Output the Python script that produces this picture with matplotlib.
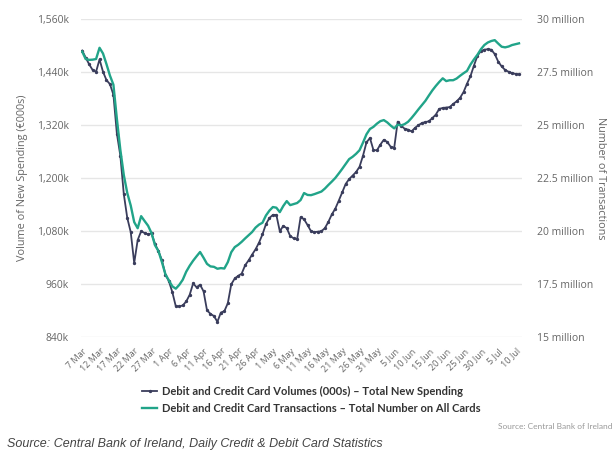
import pandas as pd
import matplotlib.pyplot as plt
from matplotlib.ticker import FuncFormatter

# daily values, 7 Mar - 11 Jul 2020
dates = pd.date_range("2020-03-07", "2020-07-11", freq="D")

# Debit and Credit Card Volumes (000s) - Total New Spending, in EUR 000s (thousands)
spending_k = [
    1488, 1472, 1457, 1444, 1440, 1468, 1440, 1421, 1412, 1388,
    1300, 1250, 1163, 1109, 1077, 1007, 1059, 1079, 1075, 1072,
    1074, 1050, 1034, 1013, 981, 966, 941, 909, 909, 911,
    920, 935, 961, 952, 958, 943, 900, 892, 887, 874,
    895, 898, 916, 959, 972, 978, 983, 1002, 1013, 1026,
    1038, 1053, 1072, 1095, 1109, 1116, 1116, 1079, 1091, 1086,
    1068, 1063, 1061, 1111, 1106, 1093, 1079, 1077, 1078, 1079,
    1086, 1100, 1117, 1130, 1148, 1167, 1186, 1197, 1205, 1213,
    1225, 1250, 1280, 1290, 1263, 1262, 1275, 1286, 1281, 1270,
    1268, 1327, 1318, 1311, 1309, 1305, 1313, 1319, 1324, 1326,
    1328, 1335, 1343, 1356, 1358, 1359, 1360, 1367, 1373, 1381,
    1394, 1413, 1430, 1454, 1476, 1487, 1490, 1491, 1490, 1480,
    1463, 1452, 1444, 1440, 1437, 1435, 1434,
]

# Debit and Credit Card Transactions - Total Number on All Cards, millions
transactions_m = [
    28.45, 28.10, 28.06, 28.07, 28.10, 28.63, 28.36, 27.86, 27.32, 26.89,
    25.28, 23.82, 22.63, 21.78, 21.19, 20.41, 20.12, 20.69, 20.46, 20.24,
    19.89, 19.32, 19.04, 18.52, 17.95, 17.66, 17.38, 17.27, 17.45, 17.69,
    18.07, 18.35, 18.59, 18.80, 19.00, 18.73, 18.44, 18.32, 18.30, 18.21,
    18.24, 18.22, 18.52, 18.99, 19.23, 19.34, 19.48, 19.64, 19.79, 19.94,
    20.15, 20.29, 20.38, 20.72, 20.95, 21.12, 21.09, 20.88, 21.17, 21.40,
    21.21, 21.26, 21.31, 21.45, 21.78, 21.69, 21.68, 21.73, 21.79, 21.85,
    21.99, 22.16, 22.32, 22.49, 22.70, 22.92, 23.15, 23.38, 23.49, 23.63,
    23.80, 24.16, 24.55, 24.80, 24.90, 25.05, 25.17, 25.22, 25.11, 24.96,
    24.83, 25.00, 24.97, 25.03, 25.14, 25.32, 25.52, 25.73, 25.93, 26.13,
    26.38, 26.62, 26.83, 27.02, 27.19, 27.06, 27.10, 27.10, 27.18, 27.31,
    27.43, 27.54, 27.84, 28.08, 28.30, 28.56, 28.76, 28.88, 28.95, 28.99,
    28.83, 28.68, 28.65, 28.69, 28.76, 28.80, 28.84,
]

left_ticks = [840, 960, 1080, 1200, 1320, 1440, 1560]
right_ticks = [15, 17.5, 20, 22.5, 25, 27.5, 30]
tick_dates = dates[::5]

label_spending = "Debit and Credit Card Volumes (000s) \u2013 Total New Spending"
label_trans = "Debit and Credit Card Transactions \u2013 Total Number on All Cards"

dark = "#3a3d5c"
green = "#21a489"
grey = "#666666"

plt.rcParams['font.family'] = ['Open Sans', 'DejaVu Sans']

fig = plt.figure(figsize=(6.14, 4.57), dpi=100)
ax = fig.add_axes([0.132, 0.263, 0.718, 0.696])
ax2 = ax.twinx()

l1, = ax.plot(dates, spending_k, color=dark, lw=1.3, marker="o", ms=1.4,
              label=label_spending, zorder=3)
l2, = ax2.plot(dates, transactions_m, color=green, lw=1.7,
               label=label_trans, zorder=3)

ax.set_ylim(840, 1560)
ax2.set_ylim(15, 30)
ax.set_yticks(left_ticks)
ax2.set_yticks(right_ticks)
ax.yaxis.set_major_formatter(FuncFormatter(lambda v, p: f"{v:,.0f}k"))
ax2.yaxis.set_major_formatter(FuncFormatter(lambda v, p: f"{v:g} million"))

ax.set_xlim(dates[0] - pd.Timedelta(hours=8), dates[-1] + pd.Timedelta(hours=20))
ax.set_xticks(tick_dates)
ax.set_xticklabels([f"{d.day} {d.strftime('%b')}" for d in tick_dates],
                   rotation=45, ha="right", rotation_mode="anchor",
                   fontsize=6.5, color=grey)

ax.grid(axis="y", color="#e6e6e6", lw=1)
ax.set_axisbelow(True)
for a in (ax, ax2):
    for s in a.spines.values():
        s.set_visible(False)
ax.tick_params(axis="y", length=0, pad=9, labelsize=7.5, labelcolor=grey)
ax2.tick_params(axis="y", length=0, pad=11, labelsize=7.5, labelcolor=grey)
ax.tick_params(axis="x", length=0, pad=7)

ax.set_ylabel("Volume of New Spending (\u20ac000s)", fontsize=7.8, color=grey)
ax.yaxis.set_label_coords(-0.12, 0.5)
ax2.set_ylabel("Number of Transactions", fontsize=7.8, color=grey, rotation=270)
ax2.yaxis.set_label_coords(1.19, 0.5)

fig.legend([l1, l2], [label_spending, label_trans], loc="upper left",
           bbox_to_anchor=(0.232, 0.156), frameon=False,
           prop={"family": ["Lato", "DejaVu Sans"], "weight": "bold", "size": 8},
           labelcolor="#333333", labelspacing=0.55, handlelength=1.3,
           handletextpad=0.5, borderpad=0, borderaxespad=0)

fig.text(0.997, 0.066, "Source: Central Bank of Ireland", ha="right", va="center",
         fontsize=6, color="#999999", family=["Lato", "DejaVu Sans"])
fig.text(0.011, 0.015, "Source: Central Bank of Ireland, Daily Credit & Debit Card Statistics",
         ha="left", va="bottom", fontsize=9, style="italic", color="#444444",
         family=["Liberation Sans", "DejaVu Sans"])

fig.savefig("out.png", dpi=100)
